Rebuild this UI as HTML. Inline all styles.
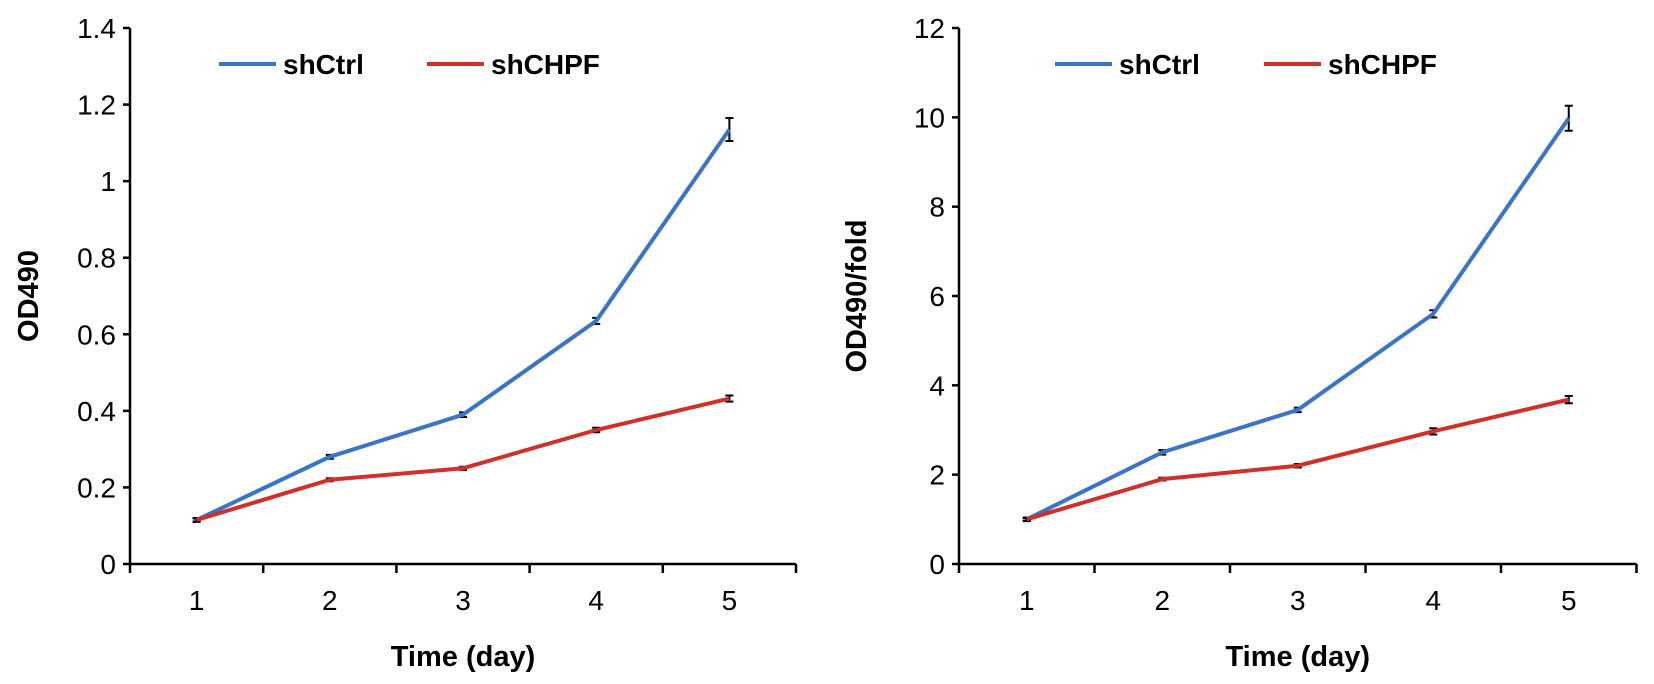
<!DOCTYPE html>
<html><head><meta charset="utf-8"><style>body{margin:0;background:#fff}svg{display:block}</style></head>
<body>
<svg id="c" width="1654" height="684" xmlns="http://www.w3.org/2000/svg" font-family="Liberation Sans, Arial, sans-serif"></svg>
<script>
const days=["1","2","3","4","5"];
const leftCtrl=[0.115,0.28,0.39,0.635,1.135];
const leftCtrlErr=[0.005,0.005,0.006,0.008,0.03];
const leftChpf=[0.115,0.22,0.25,0.35,0.432];
const leftChpfErr=[0.004,0.004,0.004,0.006,0.008];
const leftTicks=[0,0.2,0.4,0.6,0.8,1,1.2,1.4];
const leftTickLabels=["0","0.2","0.4","0.6","0.8","1","1.2","1.4"];
const rightCtrl=[1,2.5,3.45,5.6,9.98];
const rightCtrlErr=[0.04,0.05,0.05,0.08,0.28];
const rightChpf=[1,1.9,2.2,2.97,3.68];
const rightChpfErr=[0.03,0.03,0.04,0.07,0.08];
const rightTicks=[0,2,4,6,8,10,12];
const rightTickLabels=["0","2","4","6","8","10","12"];
const svg=document.getElementById('c');
const NS='http://www.w3.org/2000/svg';
function mk(t,a,p){const e=document.createElementNS(NS,t);for(const k in a)e.setAttribute(k,a[k]);(p||svg).appendChild(e);return e;}
function panel(o){
  const g=mk('g',{});
  
  
  const x0=o.x0,band=o.band,yb=564,yt=28;
  const X=i=>x0+band*(i+0.5);
  const Y=v=>yb-(v/o.max)*(yb-yt);
  const ax=mk('path',{d:`M${x0},${yt} V${yb} H${x0+band*5}`,stroke:'#000','stroke-width':2.5,fill:'none'},g);
  
  
  o.ticks.forEach((v,i)=>{
    mk('line',{x1:x0-7,x2:x0,y1:Y(v),y2:Y(v),stroke:'#000','stroke-width':2.5},g);
    const t=mk('text',{x:x0-14,y:Y(v)+10,'text-anchor':'end','font-size':28},g);
    t.textContent=o.labels[i];
    
    
  });
  for(let i=0;i<=5;i++)mk('line',{x1:x0+band*i,x2:x0+band*i,y1:yb,y2:yb+9,stroke:'#000','stroke-width':2.5},g);
  days.forEach((d,i)=>{
    const t=mk('text',{x:X(i),y:yb+46,'text-anchor':'middle','font-size':28},g);
    t.textContent=d;
    
    
  });
  const xt=mk('text',{x:x0+band*2.5,y:666,'text-anchor':'middle','font-size':29,'font-weight':'bold'},g);
  xt.textContent='Time (day)';
  
  
  const yt2=mk('text',{x:0,y:0,'text-anchor':'middle','font-size':29,'font-weight':'bold',transform:`translate(${o.ytx},${(yb+yt)/2}) rotate(-90)`},g);
  yt2.textContent=o.ytitle;
  
  
  [[o.ctrl,o.ctrlErr,'#3a73c8','shctrl-line'],[o.chpf,o.chpfErr,'#d0302a','shchpf-line']].forEach(([vals,err,col,nm])=>{
    vals.forEach((v,i)=>{
      const e=mk('path',{d:`M${X(i)},${Y(v+err[i])} V${Y(v-err[i])} M${X(i)-4},${Y(v+err[i])} h8 M${X(i)-4},${Y(v-err[i])} h8`,stroke:'#000','stroke-width':2,fill:'none'},g);
      
      
    });
    const p=mk('polyline',{points:vals.map((v,i)=>X(i)+','+Y(v)).join(' '),stroke:col,'stroke-width':4,fill:'none'},g);
    
    
  });
  [[o.lg1,'#3a73c8','shCtrl'],[o.lg2,'#d0302a','shCHPF']].forEach(([lx,col,txt])=>{
    const lg=mk('g',{},g);
    
    
    mk('line',{x1:lx,x2:lx+57,y1:64,y2:64,stroke:col,'stroke-width':4},lg);
    const t=mk('text',{x:lx+64,y:74,'font-size':28,'font-weight':'bold'},lg);
    t.textContent=txt;
  });
}
panel({name:'left-chart',x0:130,band:133.2,max:1.4,ticks:leftTicks,labels:leftTickLabels,ctrl:leftCtrl,ctrlErr:leftCtrlErr,chpf:leftChpf,chpfErr:leftChpfErr,ytitle:'OD490',ytx:38,lg1:219,lg2:427});
panel({name:'right-chart',x0:959,band:135.5,max:12,ticks:rightTicks,labels:rightTickLabels,ctrl:rightCtrl,ctrlErr:rightCtrlErr,chpf:rightChpf,chpfErr:rightChpfErr,ytitle:'OD490/fold',ytx:866,lg1:1055,lg2:1264});
</script>
</body></html>
